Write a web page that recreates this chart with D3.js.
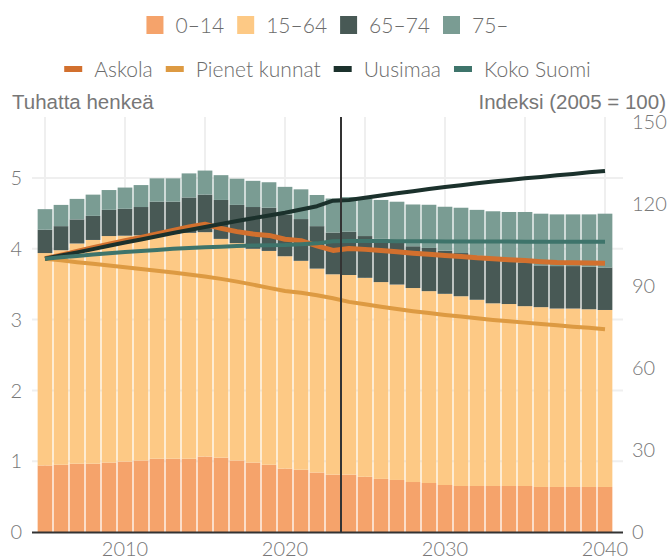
<!DOCTYPE html>
<html>
<head>
<meta charset="utf-8">
<script src="https://cdn.jsdelivr.net/npm/d3@7"></script>
<style>
  body { margin: 0; background: #fff; }
  svg { display: block; }
</style>
</head>
<body>
<div id="vis"></div>
<script>
// vuodet
var years = [2005, 2006, 2007, 2008, 2009, 2010, 2011, 2012, 2013, 2014,
             2015, 2016, 2017, 2018, 2019, 2020, 2021, 2022, 2023, 2024,
             2025, 2026, 2027, 2028, 2029, 2030, 2031, 2032, 2033, 2034,
             2035, 2036, 2037, 2038, 2039, 2040];

// ikäryhmät, tuhatta henkeä
var age0_14 = [0.94, 0.95, 0.965, 0.965, 0.98, 0.995, 1.01, 1.035, 1.035, 1.035,
               1.065, 1.05, 1.01, 0.98, 0.95, 0.895, 0.88, 0.84, 0.81, 0.81,
               0.78, 0.75, 0.735, 0.706, 0.692, 0.664, 0.65, 0.65, 0.65, 0.65,
               0.65, 0.636, 0.636, 0.636, 0.636, 0.636];
var age15_64 = [3.00, 3.03, 3.11, 3.16, 3.20, 3.19, 3.18, 3.17, 3.18, 3.19,
                3.17, 3.09, 3.07, 3.02, 3.02, 3.00, 2.95, 2.88, 2.83, 2.82,
                2.81, 2.78, 2.76, 2.74, 2.71, 2.70, 2.68, 2.63, 2.58, 2.57,
                2.54, 2.54, 2.52, 2.52, 2.51, 2.50];
var age65_74 = [0.33, 0.34, 0.34, 0.34, 0.37, 0.38, 0.40, 0.46, 0.45, 0.50,
                0.53, 0.55, 0.54, 0.59, 0.61, 0.59, 0.59, 0.60, 0.59, 0.61,
                0.59, 0.61, 0.59, 0.59, 0.61, 0.61, 0.61, 0.62, 0.61, 0.60,
                0.61, 0.59, 0.60, 0.60, 0.60, 0.60];
var age75 = [0.29, 0.30, 0.29, 0.30, 0.28, 0.30, 0.31, 0.33, 0.33, 0.34,
             0.34, 0.35, 0.37, 0.37, 0.36, 0.39, 0.42, 0.44, 0.48, 0.49,
             0.53, 0.55, 0.58, 0.59, 0.61, 0.62, 0.64, 0.65, 0.69, 0.70,
             0.72, 0.73, 0.73, 0.73, 0.74, 0.76];

// indeksit (2005 = 100)
var askola = [100, 101.3, 102.6, 104, 105.3, 106.6, 107.8, 109, 110.3, 111.6,
              112.6, 111.1, 109.9, 109.0, 108.5, 107.1, 106.6, 104.7, 103.0, 103.7,
              103.4, 103.0, 102.5, 102.0, 101.6, 101.2, 100.8, 100.3, 100.0, 99.6,
              99.3, 98.9, 98.6, 98.5, 98.4, 98.3];
var pienetKunnat = [100, 99.4, 98.7, 98.1, 97.5, 96.9, 96.2, 95.6, 94.9, 94.2,
                    93.5, 92.6, 91.6, 90.5, 89.3, 88.2, 87.5, 86.6, 85.5, 84.2,
                    83.3, 82.4, 81.6, 80.8, 80.1, 79.4, 78.8, 78.2, 77.6, 77.1,
                    76.6, 76.1, 75.6, 75.1, 74.7, 74.2];
var uusimaa = [100, 101.2, 102.3, 103.5, 104.7, 105.9, 107.0, 108.2, 109.4, 110.5,
               111.6, 112.7, 113.8, 114.8, 115.8, 116.8, 118.0, 119.2, 121.2, 121.5,
               122.3, 123.1, 123.9, 124.7, 125.5, 126.2, 126.9, 127.6, 128.2, 128.8,
               129.4, 129.9, 130.5, 131.0, 131.6, 132.1];
var kokoSuomi = [100, 100.5, 101, 101.5, 102, 102.4, 102.8, 103.2, 103.6, 103.9,
                 104.2, 104.4, 104.6, 104.8, 104.9, 105.0, 105.3, 105.6, 106.4, 106.5,
                 106.5, 106.5, 106.4, 106.4, 106.4, 106.3, 106.3, 106.3, 106.3, 106.3,
                 106.2, 106.2, 106.2, 106.2, 106.2, 106.2];

var ageGroups = ['0–14', '15–64', '65–74', '75–'];
var ageColors = ['#f5a36b', '#fdc985', '#485955', '#7a9c93'];
var lineNames = ['Askola', 'Pienet kunnat', 'Uusimaa', 'Koko Suomi'];
var lineColors = ['#d2702e', '#dd9a42', '#1b312c', '#3e746b'];
var lineWidths = [5, 4, 4, 4];

var leftTicks = [0, 1, 2, 3, 4, 5];
var rightTicks = [0, 30, 60, 90, 120, 150];
var xTickYears = [2010, 2020, 2030, 2040];
var gridYears = [2005, 2010, 2015, 2020, 2025, 2030, 2035, 2040];
var nowLineYear = 2023;

var width = 669;
var height = 558;
var plotLeft = 32, plotRight = 623, plotTop = 117, plotBottom = 532;

var svg = d3.select('#vis').append('svg')
    .attr('width', width)
    .attr('height', height);

var x = d3.scaleBand()
    .domain(years)
    .range([37, 613])
    .paddingInner(0.08)
    .paddingOuter(0.04);

var yLeft = d3.scaleLinear().domain([0, 5]).range([plotBottom, 178]);
var yRight = d3.scaleLinear().domain([0, 150]).range([plotBottom, 122]);

function cx(yr) { return x(yr) + x.bandwidth() / 2; }

// ruudukko
svg.append('g').selectAll('line')
    .data(leftTicks.slice(1))
    .enter().append('line')
    .attr('x1', plotLeft).attr('x2', plotRight)
    .attr('y1', d => yLeft(d)).attr('y2', d => yLeft(d))
    .attr('stroke', '#efefef')
    .attr('stroke-width', 2);

svg.append('g').selectAll('line')
    .data(gridYears)
    .enter().append('line')
    .attr('x1', cx).attr('x2', cx)
    .attr('y1', plotTop).attr('y2', plotBottom)
    .attr('stroke', '#efefef')
    .attr('stroke-width', 2);

// pinotut pylväät
var rows = years.map(function (yr, i) {
    return { year: yr, '0–14': age0_14[i], '15–64': age15_64[i], '65–74': age65_74[i], '75–': age75[i] };
});
var stack = d3.stack().keys(ageGroups)(rows);

svg.append('g').selectAll('g')
    .data(stack)
    .enter().append('g')
    .attr('fill', (d, i) => ageColors[i])
    .selectAll('rect')
    .data(d => d)
    .enter().append('rect')
    .attr('x', d => x(d.data.year))
    .attr('width', x.bandwidth())
    .attr('y', d => yLeft(d[1]))
    .attr('height', d => yLeft(d[0]) - yLeft(d[1]));

// perusviiva
svg.append('line')
    .attr('x1', plotLeft).attr('x2', plotRight)
    .attr('y1', plotBottom + 0.5).attr('y2', plotBottom + 0.5)
    .attr('stroke', '#333')
    .attr('stroke-width', 2);

// indeksiviivat
var series = [askola, pienetKunnat, uusimaa, kokoSuomi];
var line = d3.line()
    .x((d, i) => cx(years[i]))
    .y(d => yRight(d));

svg.append('g').selectAll('path')
    .data(series)
    .enter().append('path')
    .attr('d', line)
    .attr('fill', 'none')
    .attr('stroke', (d, i) => lineColors[i])
    .attr('stroke-width', (d, i) => lineWidths[i])
    .attr('stroke-linejoin', 'round');

// nykyhetki
var nowX = cx(nowLineYear) + x.step() / 2;
svg.append('line')
    .attr('x1', nowX).attr('x2', nowX)
    .attr('y1', plotTop).attr('y2', plotBottom)
    .attr('stroke', '#333')
    .attr('stroke-width', 2);

// akselit
var tickFont = 'Lato, sans-serif';
svg.append('g').selectAll('text')
    .data(leftTicks)
    .enter().append('text')
    .attr('x', 22)
    .attr('y', d => yLeft(d))
    .attr('dy', '0.36em')
    .attr('text-anchor', 'end')
    .attr('font-family', tickFont)
    .attr('font-weight', 300)
    .attr('font-size', 20)
    .attr('fill', '#777')
    .text(d => d);

svg.append('g').selectAll('text')
    .data(rightTicks)
    .enter().append('text')
    .attr('x', 632)
    .attr('y', d => yRight(d))
    .attr('dy', '0.36em')
    .attr('font-family', tickFont)
    .attr('font-weight', 300)
    .attr('font-size', 20)
    .attr('fill', '#777')
    .text(d => d);

svg.append('g').selectAll('text')
    .data(xTickYears)
    .enter().append('text')
    .attr('x', cx)
    .attr('y', 556)
    .attr('text-anchor', 'middle')
    .attr('font-family', tickFont)
    .attr('font-weight', 300)
    .attr('font-size', 20)
    .attr('fill', '#777')
    .text(d => d);

svg.append('text')
    .attr('x', 12).attr('y', 109)
    .attr('font-family', '"Liberation Sans", Arial, sans-serif')
    .attr('font-size', 20.5)
    .attr('fill', '#777')
    .text('Tuhatta henkeä');

svg.append('text')
    .attr('x', 666).attr('y', 109)
    .attr('text-anchor', 'end')
    .attr('font-family', '"Liberation Sans", Arial, sans-serif')
    .attr('font-size', 20.5)
    .attr('fill', '#777')
    .text('Indeksi (2005 = 100)');

// selitteet
function legendRow(names, colors, y, swW, swH) {
    var g = svg.append('g');
    var pos = 0;
    names.forEach(function (name, i) {
        var item = g.append('g').attr('transform', 'translate(' + pos + ',0)');
        item.append('rect')
            .attr('x', 0).attr('y', y - swH / 2)
            .attr('width', swW).attr('height', swH)
            .attr('fill', colors[i]);
        var t = item.append('text')
            .attr('x', swW + 12)
            .attr('y', y)
            .attr('dy', '0.36em')
            .attr('font-family', 'Lato, sans-serif')
            .attr('font-weight', 300)
            .attr('font-size', 21)
            .attr('fill', '#6b6b6b')
            .text(name);
        pos += swW + 12 + t.node().getComputedTextLength() + 13;
    });
    var total = pos - 13;
    var mid = (plotLeft + plotRight) / 2;
    g.attr('transform', 'translate(' + (mid - total / 2) + ',0)');
}

legendRow(ageGroups, ageColors, 25, 17, 18);
legendRow(lineNames, lineColors, 69, 18, 6);
</script>
</body>
</html>
